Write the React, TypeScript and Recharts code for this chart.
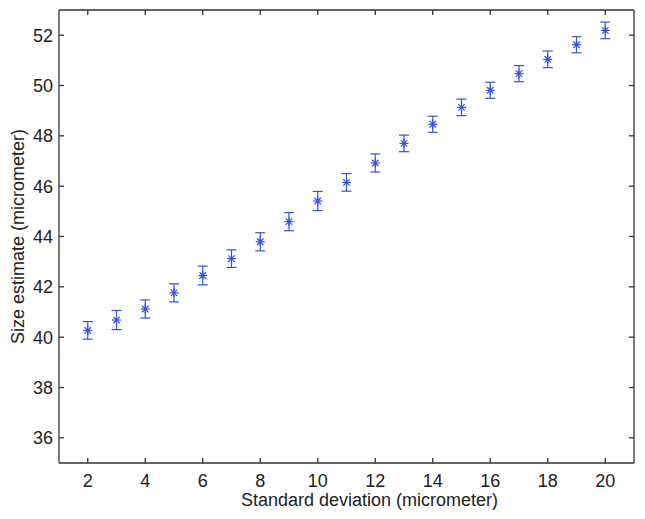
import { ComposedChart, Scatter, ErrorBar, XAxis, YAxis } from "recharts"

// standard deviation (micrometer)
const stdDev = [2, 3, 4, 5, 6, 7, 8, 9, 10, 11, 12, 13, 14, 15, 16, 17, 18, 19, 20]
// size estimate (micrometer)
const sizeEstimate = [
  40.27, 40.68, 41.12, 41.76, 42.45, 43.12, 43.79, 44.59, 45.41, 46.15,
  46.92, 47.7, 48.46, 49.13, 49.81, 50.47, 51.04, 51.62, 52.19,
]
// error half-widths
const errors = [
  0.35, 0.38, 0.36, 0.36, 0.37, 0.35, 0.36, 0.36, 0.38, 0.35,
  0.36, 0.33, 0.32, 0.33, 0.32, 0.32, 0.33, 0.32, 0.33,
]
const xTicks = [2, 4, 6, 8, 10, 12, 14, 16, 18, 20]
const yTicks = [36, 38, 40, 42, 44, 46, 48, 50, 52]

const data = stdDev.map((x, i) => ({ x, y: sizeEstimate[i], err: errors[i] }))

const FONT = "'Liberation Sans', Arial, Helvetica, sans-serif"
const AXIS = "#333333"
const BLUE = "#3552dc"

const Asterisk = (props: any) => {
  const { cx, cy } = props
  const r = 4.5
  const d = r * 0.72
  return (
    <g stroke={BLUE} strokeWidth={1.2}>
      <line x1={cx - r} y1={cy} x2={cx + r} y2={cy} />
      <line x1={cx} y1={cy - r} x2={cx} y2={cy + r} />
      <line x1={cx - d} y1={cy - d} x2={cx + d} y2={cy + d} />
      <line x1={cx - d} y1={cy + d} x2={cx + d} y2={cy - d} />
    </g>
  )
}

// x label sits a bit right of the plot centre in the original
const XLabel = (props: any) => {
  const { viewBox } = props
  return (
    <text
      x={viewBox.x + viewBox.width / 2 + 23}
      y={viewBox.y + viewBox.height - 13}
      textAnchor="middle"
      fontSize={18}
      fill="#222"
      fontFamily={FONT}
    >
      Standard deviation (micrometer)
    </text>
  )
}

export default function App() {
  const tickStyle = { fontSize: 18, fill: "#222", fontFamily: FONT }
  return (
    <div style={{ position: "absolute", left: 0, top: 0, background: "#fff" }}>
      <ComposedChart
        width={645}
        height={519}
        data={data}
        margin={{ top: 9, right: 10, bottom: 0, left: 0 }}
      >
        <XAxis
          xAxisId="bottom"
          dataKey="x"
          type="number"
          domain={[1, 21]}
          ticks={xTicks}
          allowDataOverflow
          height={56}
          tickSize={-5}
          tickMargin={16}
          tick={tickStyle}
          stroke={AXIS}
          strokeWidth={1.3}
          label={<XLabel />}
        />
        <XAxis
          xAxisId="top"
          orientation="top"
          dataKey="x"
          type="number"
          domain={[1, 21]}
          ticks={xTicks}
          allowDataOverflow
          height={1}
          tickSize={-5}
          tickFormatter={() => ""}
          stroke={AXIS}
          strokeWidth={1.3}
        />
        <YAxis
          yAxisId="left"
          type="number"
          domain={[35, 53]}
          ticks={yTicks}
          allowDataOverflow
          width={59}
          tickSize={-5}
          tickMargin={11}
          tick={tickStyle}
          stroke={AXIS}
          strokeWidth={1.3}
          label={{
            value: "Size estimate (micrometer)",
            angle: -90,
            position: "insideLeft",
            offset: 18,
            style: { fontSize: 18, fill: "#222", fontFamily: FONT, textAnchor: "middle" },
          }}
        />
        <YAxis
          yAxisId="right"
          orientation="right"
          type="number"
          domain={[35, 53]}
          ticks={yTicks}
          allowDataOverflow
          width={1}
          tickSize={-5}
          tickFormatter={() => ""}
          stroke={AXIS}
          strokeWidth={1.3}
        />
        <Scatter
          xAxisId="bottom"
          yAxisId="left"
          dataKey="y"
          shape={Asterisk}
          isAnimationActive={false}
        >
          <ErrorBar dataKey="err" direction="y" width={5} stroke={BLUE} strokeWidth={1.2} />
        </Scatter>
      </ComposedChart>
    </div>
  )
}
